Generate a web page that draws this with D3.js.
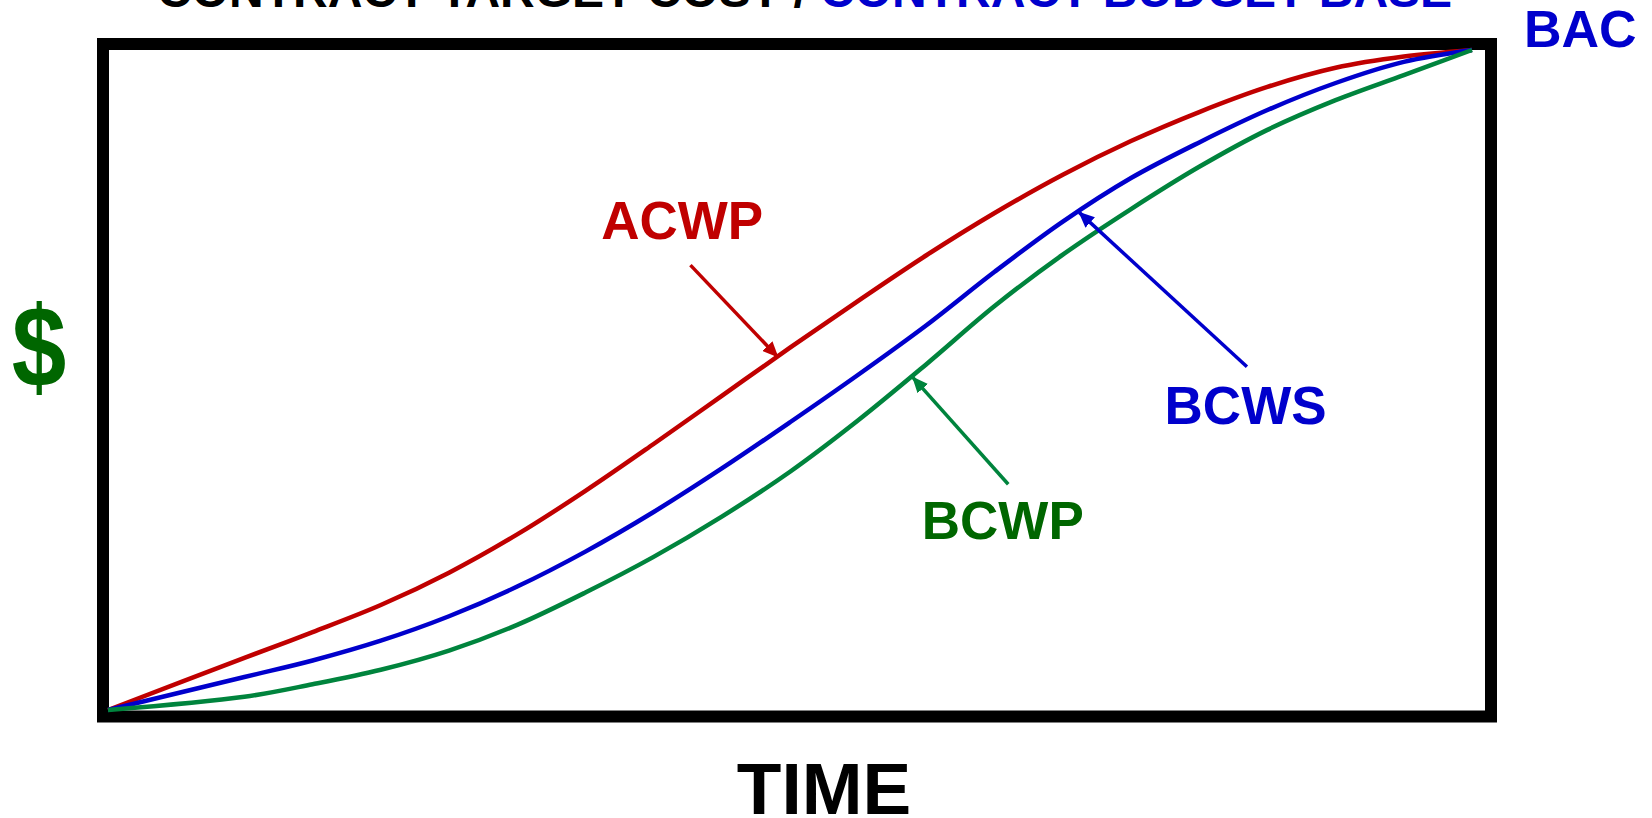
<!DOCTYPE html>
<html>
<head>
<meta charset="utf-8">
<script src="https://cdn.jsdelivr.net/npm/d3@7"></script>
<style>
  html, body { margin: 0; padding: 0; background: #fff; }
  svg text { font-family: "Liberation Sans", Arial, sans-serif; font-weight: bold; }
</style>
</head>
<body>
<div id="chart"></div>
<script>
// time axis (percent of contract period) and cumulative $ for each curve
const time = [0, 10, 15, 20, 25, 30, 35, 40, 45, 50, 55, 60, 65, 70, 75, 80, 85, 90, 95, 100];
const acwp = [0, 7.9, 11.8, 15.9, 20.8, 26.6, 33.2, 40.3, 47.6, 54.9, 62.0, 68.9, 75.3, 81.1, 86.2, 90.6, 94.4, 97.3, 99.0, 100];
const bcws = [0, 5.0, 7.5, 10.5, 14.2, 18.7, 24.0, 30.0, 36.6, 43.6, 50.8, 58.3, 66.4, 74.0, 80.6, 86.0, 90.9, 95.0, 98.2, 100];
const bcwp = [0, 2.0, 3.9, 6.1, 9.0, 12.9, 17.8, 23.2, 29.3, 36.1, 43.9, 52.4, 61.2, 69.0, 75.9, 82.3, 87.9, 92.4, 96.2, 100];

const seriesNames = ["ACWP", "BCWS", "BCWP"];
// label anchor (t, $) and arrow from -> tip, in data units
const labelAt = [[42.1, 71.4], [83.4, 43.3], [65.6, 25.9]];
const arrowFrom = [[42.7, 67.4], [83.5, 52.0], [66.0, 34.2]];
const arrowTo = [[49.1, 53.5], [71.2, 75.4], [59.0, 50.4]];

const titleParts = ["CONTRACT TARGET COST / ", "CONTRACT BUDGET BASE"];

const W = 1652, H = 818;
const lineColors = ["#c00000", "#0000cc", "#00843d"];
const labelColors = ["#c00000", "#0000cc", "#006600"];

const svg = d3.select("#chart").append("svg")
    .attr("width", W)
    .attr("height", H);

const x = d3.scaleLinear().domain([0, 100]).range([108, 1472]);
const y = d3.scaleLinear().domain([0, 100]).range([710, 50]);

// frame
svg.append("rect")
    .attr("x", 103).attr("y", 44)
    .attr("width", 1388).attr("height", 672.5)
    .attr("fill", "none")
    .attr("stroke", "#000")
    .attr("stroke-width", 12);

// arrow heads
const defs = svg.append("defs");
lineColors.forEach((c, i) => {
    defs.append("marker")
        .attr("id", "head" + i)
        .attr("markerUnits", "userSpaceOnUse")
        .attr("viewBox", "0 0 16 14")
        .attr("markerWidth", 16)
        .attr("markerHeight", 14)
        .attr("refX", 15)
        .attr("refY", 7)
        .attr("orient", "auto")
        .append("path")
        .attr("d", "M0,0 L16,7 L0,14 Z")
        .attr("fill", c);
});

const line = d3.line()
    .x(d => x(d[0]))
    .y(d => y(d[1]))
    .curve(d3.curveCatmullRom.alpha(0.5));

[acwp, bcws, bcwp].forEach((vals, i) => {
    svg.append("path")
        .datum(time.map((t, k) => [t, vals[k]]))
        .attr("d", line)
        .attr("fill", "none")
        .attr("stroke", lineColors[i])
        .attr("stroke-width", 4.5);
});

// callouts
seriesNames.forEach((name, i) => {
    svg.append("line")
        .attr("x1", x(arrowFrom[i][0])).attr("y1", y(arrowFrom[i][1]))
        .attr("x2", x(arrowTo[i][0])).attr("y2", y(arrowTo[i][1]))
        .attr("stroke", lineColors[i])
        .attr("stroke-width", 3.5)
        .attr("marker-end", "url(#head" + i + ")");

    svg.append("text")
        .attr("x", x(labelAt[i][0]))
        .attr("y", y(labelAt[i][1]))
        .attr("text-anchor", "middle")
        .style("font-size", "53px")
        .style("fill", labelColors[i])
        .text(name);
});

// title (cut off at top like the source)
const title = svg.append("text")
    .attr("x", 157)
    .attr("y", 7)
    .style("font-size", "48px");
title.append("tspan").style("fill", "#000").text(titleParts[0]);
title.append("tspan").style("fill", "#0000cc").text(titleParts[1]);

svg.append("text")
    .attr("x", 1524).attr("y", 47)
    .style("font-size", "52px")
    .style("fill", "#0000cc")
    .text("BAC");

svg.append("text")
    .attr("transform", "translate(39,386) scale(1,1.18)")
    .attr("text-anchor", "middle")
    .style("font-size", "98px")
    .style("fill", "#006600")
    .text("$");

svg.append("text")
    .attr("x", 824).attr("y", 814)
    .attr("text-anchor", "middle")
    .style("font-size", "73px")
    .style("fill", "#000")
    .text("TIME");
</script>
</body>
</html>
